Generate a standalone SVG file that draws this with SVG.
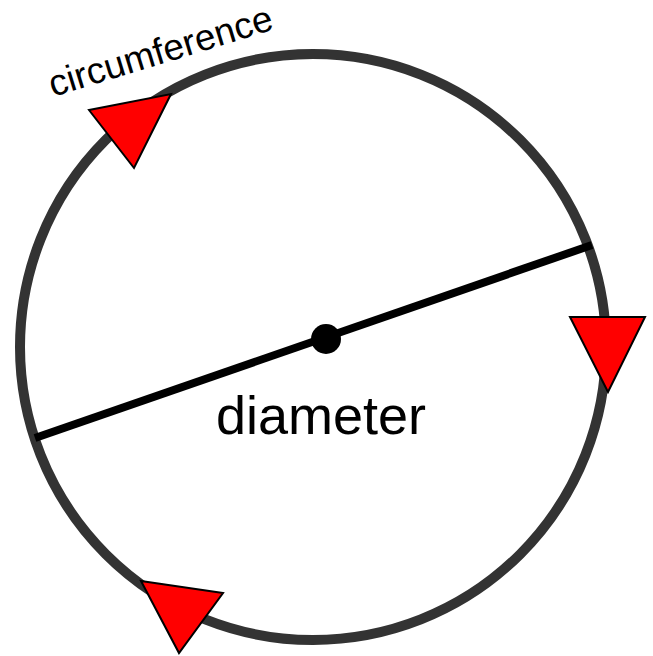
<svg xmlns="http://www.w3.org/2000/svg" width="653" height="656" viewBox="0 0 653 656">
<style>
.arrow{fill:#ff0000;stroke:#000;stroke-width:2;stroke-linejoin:miter}
.lbl{font-family:"Liberation Sans",Arial,sans-serif;fill:#000}
</style>
<rect width="653" height="656" fill="#fff"/>
<g id="circle">
<circle cx="313" cy="347" r="293" fill="none" stroke="#333" stroke-width="10"/>
</g>
<g id="connectors">
<line x1="35" y1="438" x2="592" y2="245" stroke="#000" stroke-width="8"/>
</g>
<g id="center">
<circle cx="326" cy="339" r="15" fill="#000"/>
</g>
<g id="arrow-top">
<polygon class="arrow" points="89,110 171,94 134,168"/>
</g>
<g id="arrow-right">
<polygon class="arrow" points="570,317 645,317 608,392"/>
</g>
<g id="arrow-bottom">
<polygon class="arrow" points="141,581 223,593 179,653"/>
</g>
<g id="label-circumference">
<text class="lbl" x="0" y="0" font-size="37" transform="translate(53,97) rotate(-17)">circumference</text>
</g>
<g id="label-diameter">
<text class="lbl" x="216" y="434" font-size="54">diameter</text>
</g>
</svg>
